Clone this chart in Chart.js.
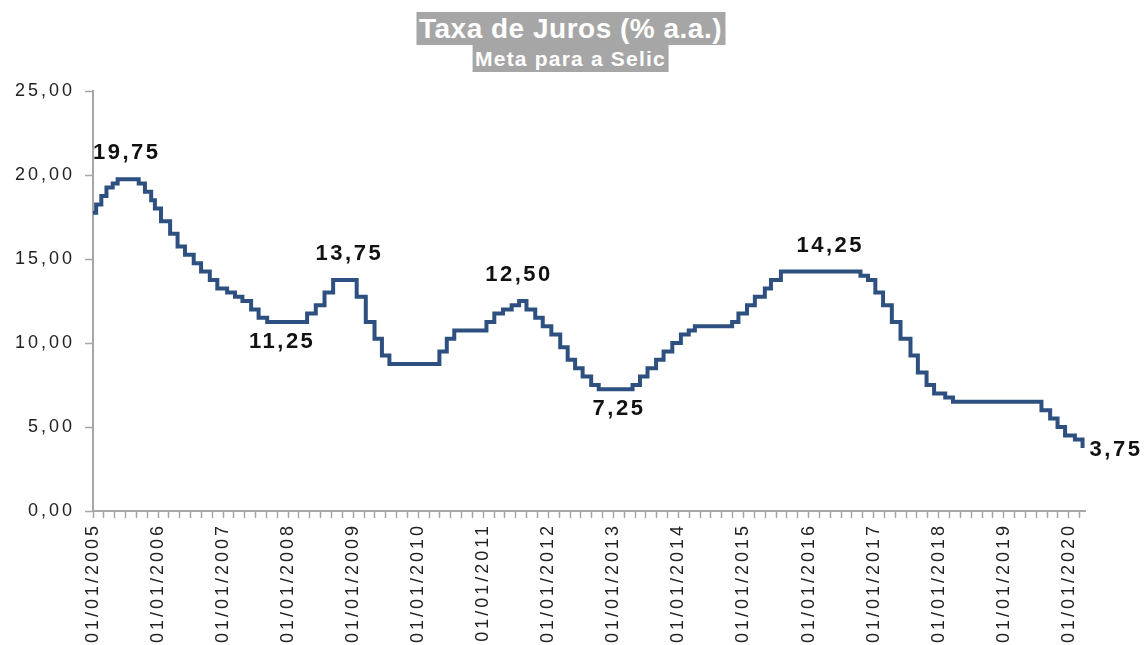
<!DOCTYPE html>
<html lang="pt-BR">
<head>
<meta charset="utf-8">
<title>Taxa de Juros - Meta para a Selic</title>
<script src="https://cdn.jsdelivr.net/npm/chart.js@4.4.1/dist/chart.umd.min.js"></script>
<style>
  html, body { margin: 0; padding: 0; background: #fff; }
  #wrap { position: relative; width: 1147px; height: 645px; overflow: hidden; }
  #selic-chart { position: absolute; left: 0; top: 0; }
  .head {
    position: absolute;
    left: 570.5px;
    transform: translateX(-50%);
    background: #a6a6a6;
    color: #fff;
    font-family: "Liberation Sans", Arial, sans-serif;
    font-weight: bold;
    white-space: nowrap;
    text-align: center;
  }
  #title { top: 12px; font-size: 28px; line-height: 33px; letter-spacing: 0.5px; padding: 0 3px; }
  #subtitle { top: 45px; font-size: 21px; line-height: 27px; letter-spacing: 1.2px; padding: 0 3px; }
</style>
</head>
<body>
<div id="wrap">
  <canvas id="selic-chart" width="1147" height="645"></canvas>
  <div class="head" id="title">Taxa de Juros (% a.a.)</div>
  <div class="head" id="subtitle">Meta para a Selic</div>
</div>
<script>
// Copom decisions: date the new target took effect, and the target (% a.a.)
const decisionDates = [
  "2005-01-01", "2005-01-19", "2005-02-16", "2005-03-16", "2005-04-20", "2005-05-18",
  "2005-09-14", "2005-10-19", "2005-11-23", "2005-12-14", "2006-01-18", "2006-03-08",
  "2006-04-19", "2006-05-31", "2006-07-19", "2006-08-30", "2006-10-18", "2006-11-29",
  "2007-01-24", "2007-03-07", "2007-04-18", "2007-06-06", "2007-07-18", "2007-09-05",
  "2008-04-16", "2008-06-04", "2008-07-23", "2008-09-10", "2009-01-21", "2009-03-11",
  "2009-04-29", "2009-06-10", "2009-07-22", "2010-04-28", "2010-06-09", "2010-07-21",
  "2011-01-19", "2011-03-02", "2011-04-20", "2011-06-08", "2011-07-20", "2011-08-31",
  "2011-10-19", "2011-11-30", "2012-01-18", "2012-03-07", "2012-04-18", "2012-05-30",
  "2012-07-11", "2012-08-29", "2012-10-10", "2013-04-17", "2013-05-29", "2013-07-10",
  "2013-08-28", "2013-10-09", "2013-11-27", "2014-01-15", "2014-02-26", "2014-04-02",
  "2014-10-29", "2014-12-03", "2015-01-21", "2015-03-04", "2015-04-29", "2015-06-03",
  "2015-07-29", "2016-10-19", "2016-11-30", "2017-01-11", "2017-02-22", "2017-04-12",
  "2017-05-31", "2017-07-26", "2017-09-06", "2017-10-25", "2017-12-06", "2018-02-07",
  "2018-03-21", "2019-07-31", "2019-09-18", "2019-10-30", "2019-12-11", "2020-02-05",
  "2020-03-18"
];
const selicTarget = [
  17.75, 18.25, 18.75, 19.25, 19.50, 19.75,
  19.50, 19.00, 18.50, 18.00, 17.25, 16.50,
  15.75, 15.25, 14.75, 14.25, 13.75, 13.25,
  13.00, 12.75, 12.50, 12.00, 11.50, 11.25,
  11.75, 12.25, 13.00, 13.75, 12.75, 11.25,
  10.25, 9.25, 8.75, 9.50, 10.25, 10.75,
  11.25, 11.75, 12.00, 12.25, 12.50, 12.00,
  11.50, 11.00, 10.50, 9.75, 9.00, 8.50,
  8.00, 7.50, 7.25, 7.50, 8.00, 8.50,
  9.00, 9.50, 10.00, 10.50, 10.75, 11.00,
  11.25, 11.75, 12.25, 12.75, 13.25, 13.75,
  14.25, 14.00, 13.75, 13.00, 12.25, 11.25,
  10.25, 9.25, 8.25, 7.50, 7.00, 6.75,
  6.50, 6.00, 5.50, 5.00, 4.50, 4.25,
  3.75
];

// Highlighted turning points
const markDates  = ["2005-07-08", "2007-11-28", "2008-12-10", "2011-07-19", "2013-02-02", "2016-05-01", "2020-03-18"];
const markValues = [19.75, 11.25, 13.75, 12.50, 7.25, 14.25, 3.75];
const markSides  = ["above", "below", "above", "above", "below", "above", "right"];

const yTicks = [0, 5, 10, 15, 20, 25];
const firstYear = 2005;
const lastMonth = 183; // axis runs to 01/04/2020

// months elapsed since 01/01/2005, fractional within the month
function monthIndex(iso) {
    const [y, m, d] = iso.split("-").map(Number);
    const days = new Date(y, m, 0).getDate();
    return (y - firstYear) * 12 + (m - 1) + (d - 1) / days;
}

function fmtBR(v) {
    return v.toFixed(2).replace(".", ",");
}

const points = decisionDates.map((d, i) => ({ x: monthIndex(d), y: selicTarget[i] }));

const xTickMonths = [];
for (let m = 0; m < lastMonth; m += 2) xTickMonths.push(m);

const AXIS_GRAY = "#a6a6a6";
const FONT = '"Liberation Sans", Arial, sans-serif';

// canvas letter spacing, to get the wide look of the original labels
const spacing = {
    id: "spacing",
    beforeDraw(chart) { chart.ctx.letterSpacing = "3px"; },
    afterDraw(chart) { chart.ctx.letterSpacing = "0px"; },
};

const markLabels = {
    id: "markLabels",
    afterDatasetsDraw(chart) {
        const { ctx, scales } = chart;
        ctx.save();
        ctx.font = "bold 22px " + FONT;
        ctx.fillStyle = "#111";
        ctx.letterSpacing = "2.5px";
        ctx.textBaseline = "middle";
        markDates.forEach((d, i) => {
            const px = scales.x.getPixelForValue(monthIndex(d));
            const py = scales.y.getPixelForValue(markValues[i]);
            const text = fmtBR(markValues[i]);
            if (markSides[i] === "above") {
                ctx.textAlign = "center";
                ctx.fillText(text, px, py - 26);
            } else if (markSides[i] === "below") {
                ctx.textAlign = "center";
                ctx.fillText(text, px, py + 20);
            } else {
                ctx.textAlign = "left";
                ctx.fillText(text, px + 7, py + 2);
            }
        });
        ctx.restore();
    },
};

new Chart(document.getElementById("selic-chart"), {
    type: "line",
    data: {
        datasets: [{
            label: "Meta para a Selic",
            data: points,
            stepped: true,
            borderColor: "#2d5080",
            borderWidth: 4,
            pointRadius: 0,
            fill: false,
        }],
    },
    options: {
        responsive: false,
        animation: false,
        layout: { padding: { top: 91, right: 62, bottom: 0, left: 0 } },
        plugins: {
            legend: { display: false },
            title: { display: false },
            tooltip: { enabled: false },
        },
        scales: {
            x: {
                type: "linear",
                min: 0,
                max: lastMonth,
                afterBuildTicks: s => { s.ticks = xTickMonths.map(v => ({ value: v })); },
                afterFit: s => { s.height = 134; },
                border: { color: AXIS_GRAY, width: 2 },
                grid: { drawOnChartArea: false, tickLength: 7, tickColor: AXIS_GRAY, tickWidth: 1.5 },
                ticks: {
                    autoSkip: false,
                    minRotation: 90,
                    maxRotation: 90,
                    padding: 5,
                    color: "#222",
                    font: { family: FONT, size: 18 },
                    callback: v => (v % 12 === 0 ? "01/01/" + (firstYear + v / 12) : ""),
                },
            },
            y: {
                min: 0,
                max: 25,
                afterBuildTicks: s => { s.ticks = yTicks.map(v => ({ value: v })); },
                afterFit: s => { s.width = 93; },
                border: { color: AXIS_GRAY, width: 2 },
                grid: { drawOnChartArea: false, tickLength: 8, tickColor: AXIS_GRAY, tickWidth: 1.5 },
                ticks: {
                    padding: 10,
                    color: "#222",
                    font: { family: FONT, size: 18 },
                    callback: v => fmtBR(v),
                },
            },
        },
    },
    plugins: [spacing, markLabels],
});
</script>
</body>
</html>
